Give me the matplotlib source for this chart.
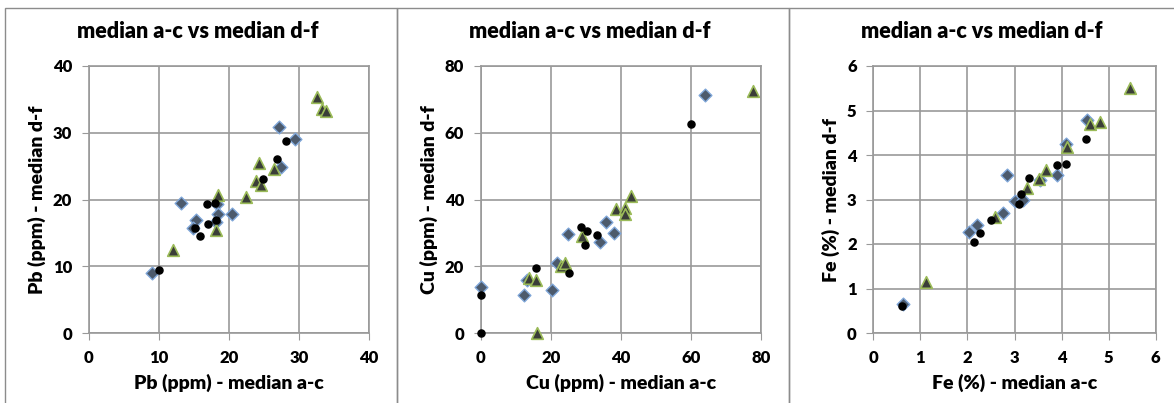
import numpy as np
import matplotlib.pyplot as plt
from matplotlib.patches import Rectangle

plt.rcParams['font.family'] = ['Lato', 'DejaVu Sans']

# Pb (ppm): median a-c (x) vs median d-f (y)
pb_dia_x = [8.95, 13.1, 15.3, 14.8, 18.3, 18.4, 18.2, 20.5, 27.2, 29.4, 27.4]
pb_dia_y = [8.93, 19.55, 16.9, 15.7, 19.3, 17.8, 16.6, 17.9, 30.8, 29.1, 24.9]
pb_cir_x = [9.95, 16.8, 18.0, 15.1, 15.9, 17.0, 18.2, 24.8, 26.8, 28.2]
pb_cir_y = [9.5, 19.4, 19.5, 15.7, 14.5, 16.3, 16.9, 23.0, 26.0, 28.8]
pb_tri_x = [12.0, 18.5, 18.1, 22.4, 24.3, 23.9, 24.5, 26.4, 32.6, 33.3, 33.9]
pb_tri_y = [12.5, 20.6, 15.5, 20.4, 25.5, 22.8, 22.1, 24.6, 35.4, 33.6, 33.2]

# Cu (ppm)
cu_dia_x = [0.0, 12.2, 13.0, 20.3, 21.8, 24.7, 34.1, 35.8, 38.1, 63.8]
cu_dia_y = [13.9, 11.3, 16.0, 12.8, 21.1, 29.7, 27.4, 33.2, 30.0, 71.4]
cu_cir_x = [0.0, 0.0, 15.7, 25.2, 28.6, 30.2, 29.6, 33.0, 59.8]
cu_cir_y = [11.5, 0.0, 19.6, 17.9, 31.7, 30.5, 26.4, 29.3, 62.7]
cu_tri_x = [13.8, 15.6, 16.0, 22.9, 23.9, 28.7, 38.4, 41.0, 41.1, 42.7, 77.7]
cu_tri_y = [16.6, 15.8, 0.0, 20.0, 20.9, 29.2, 37.2, 37.6, 35.7, 40.9, 72.6]

# Fe (%)
fe_dia_x = [0.63, 2.03, 2.20, 2.75, 2.85, 3.00, 3.19, 3.55, 3.90, 4.09, 4.54]
fe_dia_y = [0.65, 2.27, 2.43, 2.69, 3.54, 2.97, 2.98, 3.44, 3.55, 4.25, 4.79]
fe_cir_x = [0.62, 2.14, 2.26, 2.51, 3.09, 3.14, 3.31, 3.90, 4.09, 4.52]
fe_cir_y = [0.60, 2.05, 2.25, 2.54, 2.91, 3.13, 3.48, 3.78, 3.79, 4.36]
fe_tri_x = [1.11, 2.58, 3.26, 3.51, 3.66, 4.11, 4.61, 4.82, 5.46]
fe_tri_y = [1.14, 2.60, 3.25, 3.47, 3.66, 4.17, 4.69, 4.75, 5.51]

panels = [
    ('Pb (ppm)', pb_dia_x, pb_dia_y, pb_cir_x, pb_cir_y, pb_tri_x, pb_tri_y, 40, 10),
    ('Cu (ppm)', cu_dia_x, cu_dia_y, cu_cir_x, cu_cir_y, cu_tri_x, cu_tri_y, 80, 20),
    ('Fe (%)', fe_dia_x, fe_dia_y, fe_cir_x, fe_cir_y, fe_tri_x, fe_tri_y, 6, 1),
]

W, H = 1174, 403
fig = plt.figure(figsize=(W / 100, H / 100), dpi=100)

# pixel boxes (left, top, right, bottom) of plot areas and chart borders
plot_boxes = [(89, 66, 369, 333), (481, 66, 761.3, 333), (873.3, 66, 1155.7, 333)]
chart_boxes = [(5, 8, 397, 410), (397, 8, 789, 410), (789, 8, 1180, 410)]

for (l, t, r, b) in chart_boxes:
    fig.add_artist(Rectangle((l / W, 1 - b / H), (r - l) / W, (b - t) / H,
                             transform=fig.transFigure, fill=False,
                             edgecolor='#8c8c8c', linewidth=1.0))

grid_col = '#999999'
for (name, dx, dy, cx, cy, tx, ty, lim, step), (l, t, r, b), (cl, ct, cr, cb) in zip(
        panels, plot_boxes, chart_boxes):
    ax = fig.add_axes([l / W, 1 - b / H, (r - l) / W, (b - t) / H])
    ax.set_xlim(0, lim)
    ax.set_ylim(0, lim)
    ticks = np.arange(0, lim + step / 2, step)
    ax.set_xticks(ticks)
    ax.set_yticks(ticks)
    ax.set_xticklabels([f'{v:g}' for v in ticks], fontsize=12, fontweight='heavy')
    ax.set_yticklabels([f'{v:g}' for v in ticks], fontsize=12, fontweight='heavy')
    ax.grid(True, color=grid_col, linewidth=1.2)
    ax.set_axisbelow(True)
    for s in ax.spines.values():
        s.set_color(grid_col)
        s.set_linewidth(1.2)
    ax.tick_params(direction='out', length=5, color=grid_col, pad=7)
    ax.scatter(dx, dy, marker='D', s=42, facecolor='#4c5a6c', edgecolor='#7fa6d8',
               linewidth=1.0, zorder=3, clip_on=False)
    ax.scatter(tx, ty, marker='^', s=70, facecolor='#3a3d38', edgecolor='#9bbb59',
               linewidth=1.2, zorder=4, clip_on=False)
    ax.scatter(cx, cy, marker='o', s=26, facecolor='black', edgecolor='black',
               zorder=5, clip_on=False)
    ax.set_xlabel(f'{name} - median a-c', fontsize=14, fontweight='heavy', labelpad=6)
    ax.set_ylabel(f'{name} - median d-f', fontsize=14, fontweight='heavy', labelpad=5)
    fig.text((cl + cr) / 2 / W - 3 / W, 1 - 32 / H, 'median a-c vs median d-f',
             ha='center', va='center', fontsize=15.5, fontweight='heavy')

fig.savefig('out.png', dpi=100)
